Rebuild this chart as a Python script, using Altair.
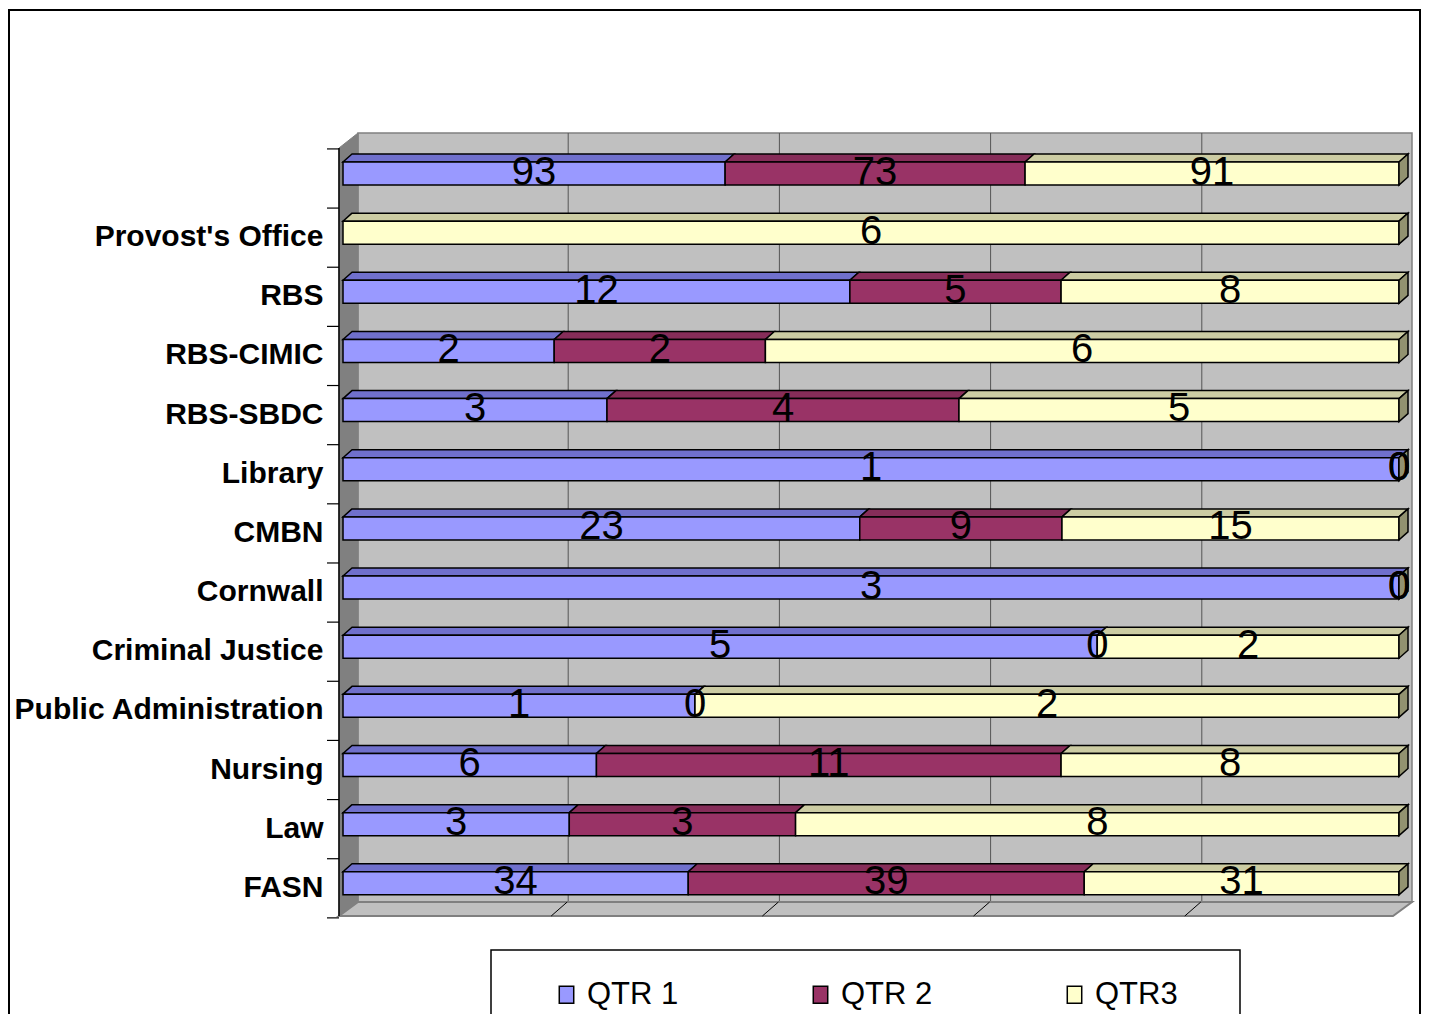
import json
import altair as alt
import pandas as pd

# ---------------- data ----------------
categories = ["", "Provost's Office", "RBS", "RBS-CIMIC", "RBS-SBDC", "Library", "CMBN",
              "Cornwall", "Criminal Justice", "Public Administration", "Nursing", "Law", "FASN"]
series = ["QTR 1", "QTR 2", "QTR3"]
qtr1 = [93, None, 12, 2, 3, 1, 23, 3, 5, 1, 6, 3, 34]
qtr2 = [73, None, 5, 2, 4, 0, 9, 0, 0, 0, 11, 3, 39]
qtr3 = [91, 6, 8, 6, 5, 0, 15, 0, 2, 2, 8, 8, 31]

# ---------------- styles ----------------
front_colors = ["#9999FF", "#993366", "#FFFFCC"]
top_colors = ["#7070CC", "#862D59", "#CCCCA3"]
cap_color = "#929270"
FONT = "Liberation Sans"

W, H = 1056, 783          # plot area (front plane of bars)
ROW0, STEP = 40.5, 59.15  # pixel centre of first row, row step


def X(px):
    return px / W


def Y(px):
    return (px - ROW0) / STEP


HALF = 11.5 / STEP   # half height of bar front face
DY = 8 / STEP        # 3D depth (vertical)
DX = 9 / W           # 3D depth (horizontal)

# ---------------- derived tables ----------------
segs = []
for r in range(len(categories)):
    vals = [qtr1[r], qtr2[r], qtr3[r]]
    total = sum(v for v in vals if v is not None)
    cum = 0
    for i, (s, v) in enumerate(zip(series, vals)):
        if v is None:
            continue
        x0 = cum / total
        cum += v
        x1 = cum / total
        segs.append(dict(row=r, series=s, value=v, x0=x0, x1=x1, xm=(x0 + x1) / 2,
                         y0=r - HALF, y1=r + HALF, seg=f"{r}-{i}", top=top_colors[i]))
seg_df = pd.DataFrame(segs)

top_rows = []
for d in segs:
    top_rows.append(dict(seg=d["seg"], top=d["top"], y=d["row"] - HALF, x=d["x0"], x2=d["x1"]))
    top_rows.append(dict(seg=d["seg"], top=d["top"], y=d["row"] - HALF - DY,
                         x=d["x0"] + DX, x2=d["x1"] + DX))
top_df = pd.DataFrame(top_rows)

cap_rows = []
for r in range(len(categories)):
    cap_rows.append(dict(row=r, x=1.0, y=r - HALF, y2=r + HALF))
    cap_rows.append(dict(row=r, x=1.0 + DX, y=r - HALF - DY, y2=r + HALF - DY))
cap_df = pd.DataFrame(cap_rows)

xs = alt.Scale(domain=[0, 1], nice=False, zero=False)
ys = alt.Scale(domain=[Y(0), Y(H)], reverse=True, nice=False, zero=False)

label_expr = json.dumps(categories) + "[datum.value]"
yaxis = alt.Axis(values=list(range(len(categories))), labelExpr=label_expr,
                 ticks=False, tickSize=0, domain=False, grid=False,
                 labelFont=FONT, labelFontWeight="bold", labelFontSize=30,
                 labelColor="black", labelPadding=20, labelOffset=4,
                 labelLimit=500, labelOverlap=False, labelBaseline="middle",
                 labelAlign="right", title=None)


def yq(field):
    return alt.Y(field, scale=ys, axis=yaxis, title=None)


def xq(field):
    return alt.X(field, scale=xs, axis=None)


one = pd.DataFrame({"a": [0]})

# ---------------- decoration ----------------
border = alt.Chart(one).mark_rect(fill=None, stroke="black", strokeWidth=2).encode(
    x=alt.value(-334), x2=alt.value(1077), y=alt.value(-123), y2=alt.value(1000))

legend_box = alt.Chart(one).mark_rect(fill="white", stroke="black", strokeWidth=1.5).encode(
    x=alt.value(148), x2=alt.value(897), y=alt.value(817), y2=alt.value(1000))

back_wall = alt.Chart(pd.DataFrame({"x": [X(15)], "x2": [X(1069)], "y": [Y(0)], "y2": [Y(769)]})
                      ).mark_rect(fill="#C0C0C0", stroke="#808080", strokeWidth=1.5).encode(
    x=xq("x:Q"), x2="x2:Q", y=yq("y:Q"), y2="y2:Q")

grid = alt.Chart(pd.DataFrame({"g": [0.2, 0.4, 0.6, 0.8]})).mark_rule(
    color="#555555", strokeWidth=1, xOffset=14).encode(
    x=xq("g:Q"), y=alt.value(0), y2=alt.value(769))

side_wall = alt.Chart(pd.DataFrame({"x": [X(-4), X(15)], "y": [Y(15), Y(0)],
                                    "y2": [Y(783), Y(769)]})).mark_area(
    orient="vertical", fill="#808080", stroke="#808080", strokeWidth=1).encode(
    x=xq("x:Q"), y=yq("y:Q"), y2="y2:Q")

floor = alt.Chart(pd.DataFrame({"y": [Y(769), Y(783)], "x": [X(15), X(-4)],
                                "x2": [X(1069), X(1050)]})).mark_area(
    orient="horizontal", fill="#C0C0C0", stroke="#808080", strokeWidth=2).encode(
    y=yq("y:Q"), x=xq("x:Q"), x2="x2:Q")

floor_ticks = alt.Chart(pd.DataFrame({"g": [0.2, 0.4, 0.6, 0.8]})).mark_rule(
    color="black", strokeWidth=1, xOffset=13, x2Offset=-3).encode(
    x=xq("g:Q"), x2="g:Q", y=alt.value(769), y2=alt.value(783))

axis_line = alt.Chart(one).mark_rule(color="black", strokeWidth=1.5).encode(
    x=alt.value(-4), y=alt.value(15), y2=alt.value(783))

ticks = alt.Chart(pd.DataFrame({"t": [k - 0.5 for k in range(len(categories) + 1)]})).mark_rule(
    color="black", strokeWidth=1.2, yOffset=5).encode(
    y=yq("t:Q"), x=alt.value(-16), x2=alt.value(-4))

# ---------------- bars ----------------
top_faces = alt.Chart(top_df).mark_area(orient="horizontal", stroke="black", strokeWidth=1.5).encode(
    y=yq("y:Q"), x=xq("x:Q"), x2="x2:Q",
    detail="seg:N",
    fill=alt.Fill("top:N", scale=None))

front = alt.Chart(seg_df).mark_rect(stroke="black", strokeWidth=1.5).encode(
    x=xq("x0:Q"), x2="x1:Q",
    y=yq("y0:Q"), y2="y1:Q",
    color=alt.Color("series:N", scale=alt.Scale(domain=series, range=front_colors),
                    legend=alt.Legend(orient="none", legendX=208, legendY=846,
                                      direction="horizontal", title=None,
                                      labelFont=FONT, labelFontSize=31, labelColor="black",
                                      symbolType="M-0.85,-1H0.85V1H-0.85Z", symbolSize=289,
                                      symbolStrokeColor="black", symbolStrokeWidth=1.5,
                                      symbolOpacity=1, labelOffset=5, columnPadding=126,
                                      padding=0)))

caps = alt.Chart(cap_df).mark_area(orient="vertical", fill=cap_color, stroke="black",
                                   strokeWidth=1.5).encode(
    x=xq("x:Q"), y=yq("y:Q"), y2="y2:Q",
    detail="row:N")

labels = alt.Chart(seg_df).mark_text(font=FONT, fontSize=40, baseline="middle", align="center",
                                     dy=-1, color="black").encode(
    x=xq("xm:Q"), y=yq("row:Q"),
    text=alt.Text("value:Q", format=".0f"))

chart = alt.layer(
    border, legend_box, back_wall, grid, side_wall, floor, floor_ticks, axis_line, ticks,
    top_faces, front, caps, labels
).properties(
    width=W, height=H,
    padding={"left": 335, "top": 125, "right": 22, "bottom": 98},
    autosize=alt.AutoSizeParams(type="none"),
    background="white",
).configure_view(strokeWidth=0)

chart.save("out.html", embed_options={"renderer": "svg", "actions": False})
